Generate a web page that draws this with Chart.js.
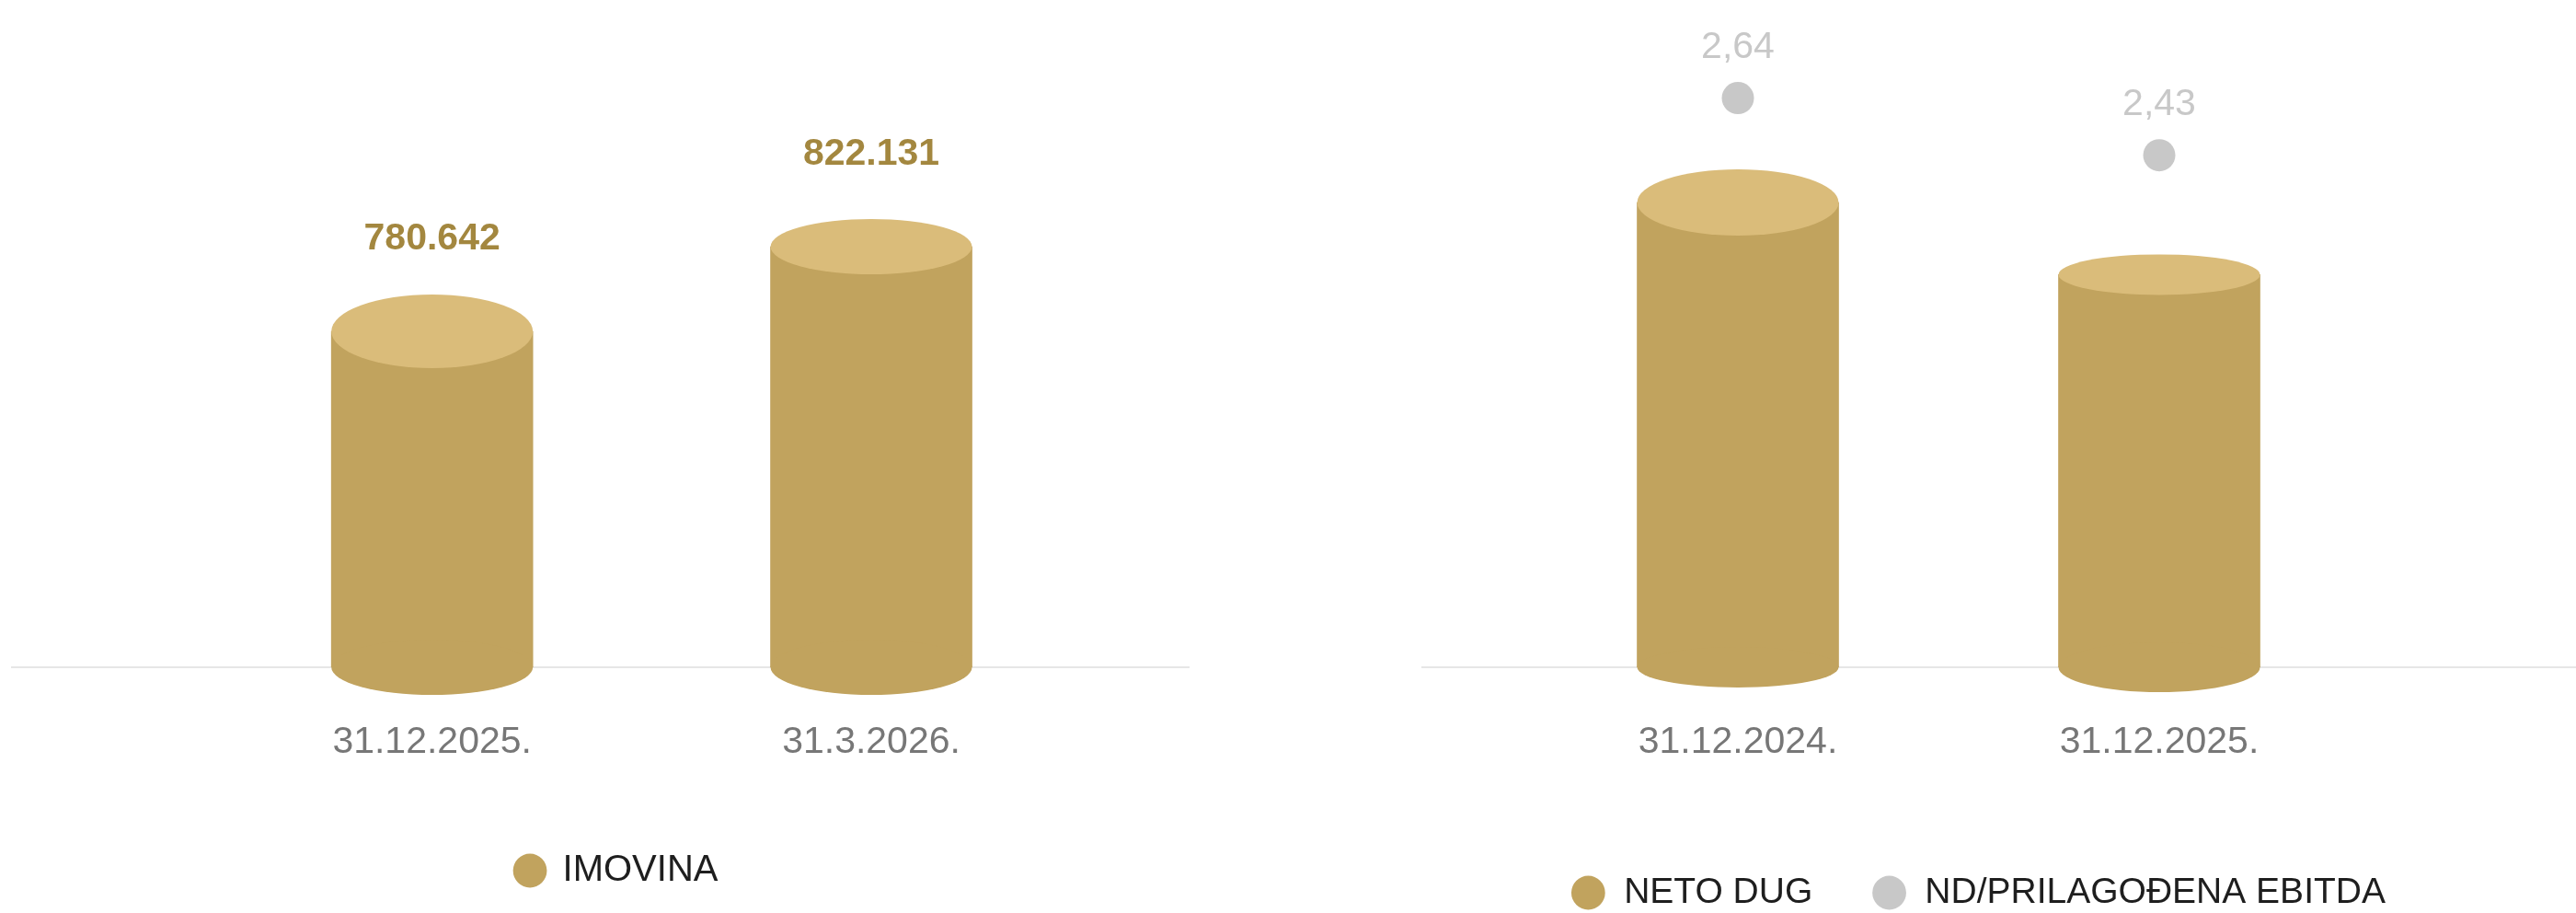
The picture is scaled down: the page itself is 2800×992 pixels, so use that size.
<!DOCTYPE html>
<html>
<head>
<meta charset="utf-8">
<script src="https://cdn.jsdelivr.net/npm/chart.js@4.4.1/dist/chart.umd.min.js"></script>
<style>
  html, body { margin: 0; padding: 0; width: 2800px; height: 992px; overflow: hidden; background: #fff; }
  .box { position: absolute; top: 0; }
  #leftBox { left: 12px; }
  #rightBox { left: 1545px; }
  canvas { display: block; }
</style>
</head>
<body>
<div class="box" id="leftBox"><canvas id="assetsChart" width="1281" height="992" style="width:1281px;height:992px"></canvas></div>
<div class="box" id="rightBox"><canvas id="debtChart" width="1255" height="1010" style="width:1255px;height:1010px"></canvas></div>
<script>
// left chart
const assetDates = ['31.12.2025.', '31.3.2026.'];
const assetValues = [780642, 822131];

// right chart
const debtDates = ['31.12.2024.', '31.12.2025.'];
const netDebt = [264, 223]; // no labels on these bars, guessed from their heights
const ndEbitda = [2.64, 2.43];

const FONT = "'Liberation Sans', Arial, sans-serif";
const GOLD = '#c1a35e';
const CAP = '#dabc7a';
const GREY = '#c8c8c8';

function thousands(v) {
    return String(v).replace(/\B(?=(\d{3})+(?!\d))/g, '.');
}

function decimalComma(v) {
    return v.toFixed(2).replace('.', ',');
}

// bars get an elliptic top and bottom so they look like cylinders
function cylinders(topDepth, bottomDepth) {
    return {
        id: 'cylinders',
        beforeDatasetsDraw(chart) {
            const ctx = chart.ctx;
            const y = chart.chartArea.bottom;
            ctx.save();
            ctx.strokeStyle = '#e6e6e6';
            ctx.lineWidth = 2;
            ctx.beginPath();
            ctx.moveTo(0, y);
            ctx.lineTo(chart.width, y);
            ctx.stroke();
            ctx.restore();
        },
        afterDatasetDraw(chart, args) {
            if (args.meta.type !== 'bar') return;
            const ctx = chart.ctx;
            // axis may not start at zero, so the visible foot is the plot bottom
            const foot = Math.min(chart.chartArea.bottom);
            ctx.save();
            args.meta.data.forEach((bar, i) => {
                const rx = bar.width / 2;
                const base = Math.min(bar.base, foot);
                ctx.fillStyle = GOLD;
                ctx.beginPath();
                ctx.ellipse(bar.x, base, rx, bottomDepth[i], 0, 0, Math.PI * 2);
                ctx.fill();
                ctx.fillStyle = CAP;
                ctx.beginPath();
                ctx.ellipse(bar.x, bar.y, rx, topDepth[i], 0, 0, Math.PI * 2);
                ctx.fill();
            });
            ctx.restore();
        }
    };
}

function valueLabels(dsIndex, format, color, font, offset) {
    return {
        id: 'valueLabels' + dsIndex,
        afterDatasetsDraw(chart) {
            const ctx = chart.ctx;
            const values = chart.data.datasets[dsIndex].data;
            ctx.save();
            ctx.fillStyle = color;
            ctx.font = font;
            ctx.textAlign = 'center';
            ctx.textBaseline = 'middle';
            chart.getDatasetMeta(dsIndex).data.forEach((el, i) => {
                ctx.fillText(format(values[i]), el.x, el.y - offset);
            });
            ctx.restore();
        }
    };
}

// invisible axis that only reserves room beside the plot
function spacerAxis(extra, width) {
    return Object.assign({
        grid: { display: false, drawTicks: false },
        border: { display: false },
        ticks: { display: false },
        afterFit: (axis) => { axis.width = width; }
    }, extra);
}

function dateAxis(height, padding) {
    return {
        grid: { display: false, drawTicks: false },
        border: { display: false },
        ticks: { color: '#777777', font: { family: FONT, size: 41 }, padding: padding },
        afterFit: (axis) => { axis.height = height; }
    };
}

function legendOpts(boxWidth, padding, size) {
    return {
        position: 'bottom',
        labels: {
            usePointStyle: true,
            pointStyle: 'circle',
            boxWidth: boxWidth,
            boxHeight: 26,
            padding: padding,
            color: '#1e1e1e',
            font: { family: FONT, size: size }
        }
    };
}

const ctxAssets = document.getElementById('assetsChart').getContext('2d');

new Chart(ctxAssets, {
    type: 'bar',
    data: {
        labels: assetDates,
        datasets: [{
            label: 'IMOVINA',
            data: assetValues,
            backgroundColor: GOLD,
            borderWidth: 0,
            barThickness: 219
        }]
    },
    options: {
        responsive: false,
        animation: false,
        devicePixelRatio: 1,
        layout: { autoPadding: false, padding: { left: 143.3, right: 107.3, top: 0, bottom: 16 } },
        scales: {
            x: dateAxis(191, 57.4),
            y: spacerAxis({ min: 616000, max: 943000 }, 75.7)
        },
        plugins: {
            legend: legendOpts(31, 10, 40),
            tooltip: { enabled: false }
        }
    },
    plugins: [
        cylinders([40, 30], [30, 30]),
        valueLabels(0, thousands, '#a3873f', 'bold 41px ' + FONT, 100)
    ]
});

const ctxDebt = document.getElementById('debtChart').getContext('2d');

new Chart(ctxDebt, {
    type: 'bar',
    data: {
        labels: debtDates,
        datasets: [{
            label: 'NETO DUG',
            data: netDebt,
            backgroundColor: GOLD,
            borderWidth: 0,
            barThickness: 219,
            yAxisID: 'y'
        }, {
            type: 'line',
            label: 'ND/PRILAGOĐENA EBITDA',
            data: ndEbitda,
            yAxisID: 'y1',
            showLine: false,
            pointStyle: 'circle',
            pointRadius: 17.5,
            backgroundColor: GREY,
            borderColor: GREY,
            borderWidth: 0
        }]
    },
    options: {
        responsive: false,
        animation: false,
        devicePixelRatio: 1,
        layout: { autoPadding: false, padding: { left: 0, right: 45, top: 0, bottom: 10.5 } },
        scales: {
            x: dateAxis(161.5, 57.4),
            y: spacerAxis({ min: 0, max: 379 }, 115),
            y1: spacerAxis({ position: 'right', min: 0.55, max: 3.0 }, 179)
        },
        plugins: {
            legend: legendOpts(38.6, 64, 39),
            tooltip: { enabled: false }
        }
    },
    plugins: [
        cylinders([36, 22], [22, 27]),
        valueLabels(1, decimalComma, GREY, '41px ' + FONT, 55)
    ]
});
</script>
</body>
</html>
